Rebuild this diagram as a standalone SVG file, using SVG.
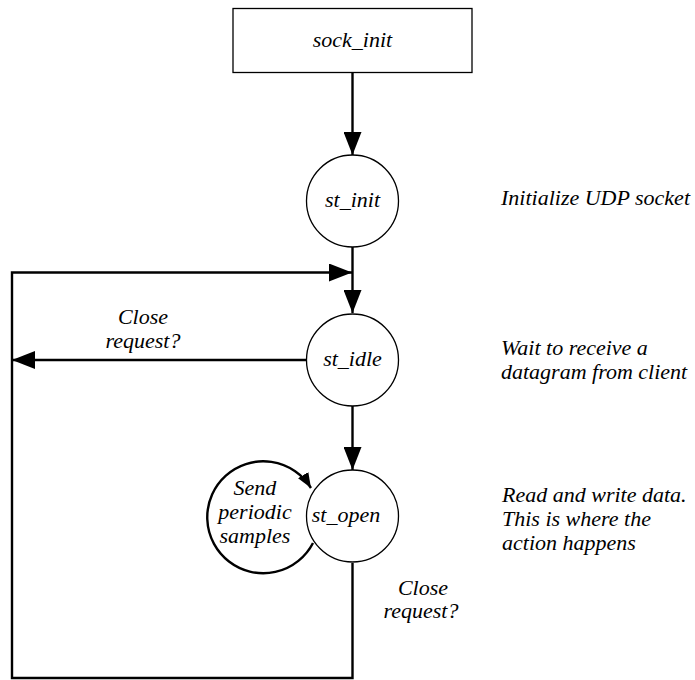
<svg xmlns="http://www.w3.org/2000/svg" width="695" height="680" viewBox="0 0 695 680">
  <style>
    text { font-style: italic; font-size: 22px; fill: #000; }
    .mid { text-anchor: middle; }
    .state { fill: #fff; stroke: #000; stroke-width: 1.3; }
    .edge { fill: none; stroke: #000; stroke-width: 2.4; }
  </style>
  <defs>
    <marker id="arrow" markerUnits="userSpaceOnUse" markerWidth="24" markerHeight="18" refX="23" refY="9" orient="auto">
      <path d="M0,0 L23,9 L0,18 Z" fill="#000"/>
    </marker>
    <marker id="arrowSmall" markerUnits="userSpaceOnUse" markerWidth="16" markerHeight="12" refX="15" refY="6" orient="auto">
      <path d="M0,0 L15,6 L0,12 Z" fill="#000"/>
    </marker>
  </defs>

  <rect width="695" height="680" fill="#fff"/>

  <!-- connectors -->
  <g id="connectors">
    <line class="edge" x1="352.5" y1="72" x2="352.5" y2="155" marker-end="url(#arrow)"/>
    <line class="edge" x1="352.5" y1="247" x2="352.5" y2="313" marker-end="url(#arrow)"/>
    <line class="edge" x1="352.5" y1="406" x2="352.5" y2="470" marker-end="url(#arrow)"/>
    <line class="edge" x1="306" y1="360" x2="12" y2="360" marker-end="url(#arrow)"/>
    <path class="edge" d="M352.5,563 L352.5,678 L12,678 L12,272.5 L352,272.5" marker-end="url(#arrow)"/>
    <path class="edge" d="M313,543 A56,56 0 1 1 311,488" marker-end="url(#arrowSmall)"/>
  </g>

  <g font-family="'Liberation Serif', 'Times New Roman', 'DejaVu Serif', serif">
    <g id="sock_init">
      <rect x="233" y="8.5" width="239" height="64" fill="#fff" stroke="#000" stroke-width="1.3"/>
      <text class="mid" x="352.5" y="47">sock_init</text>
    </g>

    <g id="st_init">
      <circle class="state" cx="352.5" cy="201" r="46"/>
      <text class="mid" x="352.5" y="207">st_init</text>
    </g>

    <g id="st_idle">
      <circle class="state" cx="352.5" cy="360" r="46"/>
      <text class="mid" x="352.5" y="366">st_idle</text>
    </g>

    <g id="st_open">
      <circle class="state" cx="352.5" cy="516" r="46"/>
      <text class="mid" x="346" y="522">st_open</text>
    </g>

    <!-- transition labels -->
    <g id="label_idle_close">
      <text class="mid" x="143" y="324">Close</text>
      <text class="mid" x="143" y="348">request?</text>
    </g>
    <g id="label_open_close">
      <text class="mid" x="423" y="595">Close</text>
      <text class="mid" x="421" y="618">request?</text>
    </g>
    <g id="label_loop">
      <text class="mid" x="255" y="495">Send</text>
      <text class="mid" x="255" y="519">periodic</text>
      <text class="mid" x="255" y="543">samples</text>
    </g>

    <!-- state descriptions -->
    <g id="notes">
      <text x="501" y="205">Initialize UDP socket</text>
      <text x="501" y="355">Wait to receive a</text>
      <text x="501" y="379">datagram from client</text>
      <text x="502" y="502">Read and write data.</text>
      <text x="502" y="526">This is where the</text>
      <text x="502" y="550">action happens</text>
    </g>
  </g>
</svg>
